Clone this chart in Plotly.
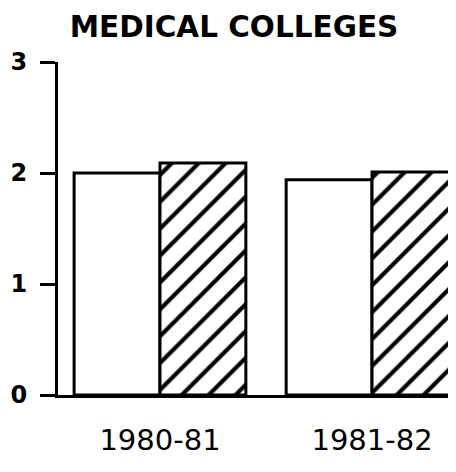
import plotly.graph_objects as go

years = ["1980-81", "1981-82"]
plain_values = [2.0, 1.94]
hatched_values = [2.09, 2.01]
y_ticks = [0, 1, 2, 3]

x_pos = list(range(len(years)))

fig = go.Figure()
fig.add_trace(go.Bar(
    x=x_pos, y=plain_values, name="Plain",
    marker=dict(color="white", line=dict(color="black", width=3)),
))
fig.add_trace(go.Bar(
    x=x_pos, y=hatched_values, name="Hatched",
    marker=dict(color="white", line=dict(color="black", width=3),
                pattern=dict(shape="/", fgcolor="black", bgcolor="white",
                             fgopacity=1, size=19, solidity=0.22)),
))

font_family = "DejaVu Sans"
# the page body adds an 8px offset; the figure is sized to fit the window
W, H = 448, 464
fig.update_layout(
    width=W, height=H,
    margin=dict(l=50, r=0, t=54, b=77, autoexpand=False),
    paper_bgcolor="white", plot_bgcolor="white",
    barmode="group", bargap=0.19, bargroupgap=0,
    showlegend=False,
    title=dict(text="<b>MEDICAL COLLEGES</b>", x=226 / W, xanchor="center",
               xref="container",
               y=1 - 19 / H, yanchor="middle",
               font=dict(family=font_family, size=29.5, color="black")),
    xaxis=dict(
        range=[-0.481, 1.396], tickvals=x_pos, ticktext=years,
        showline=True, linecolor="black", linewidth=3,
        showgrid=False, zeroline=False, ticks="",
        ticklabelstandoff=17, automargin=False,
        tickfont=dict(family=font_family, size=29, color="black"),
    ),
    yaxis=dict(
        range=[0, 3], tickvals=y_ticks,
        showline=True, linecolor="black", linewidth=3,
        showgrid=False, zeroline=False,
        ticks="outside", ticklen=15, tickwidth=3, tickcolor="black",
        ticklabelstandoff=8, automargin=False,
        tickfont=dict(family=font_family, size=24, color="black", weight="bold"),
    ),
)

fig.write_html("out.html")
